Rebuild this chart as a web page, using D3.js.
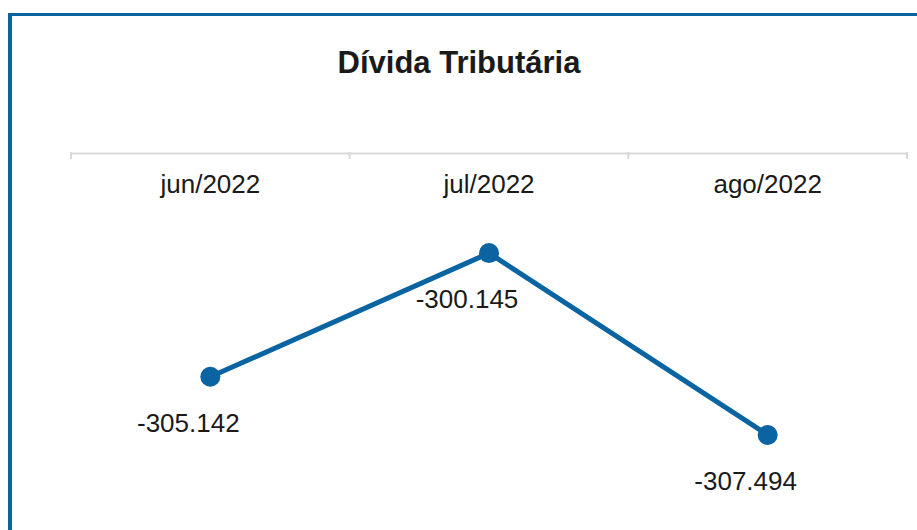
<!DOCTYPE html>
<html>
<head>
<meta charset="utf-8">
<script src="https://cdn.jsdelivr.net/npm/d3@7"></script>
<style>
  body { margin: 0; background: #fff; }
  text { font-family: "Liberation Sans", Arial, sans-serif; fill: #1a1a1a; }
</style>
</head>
<body>
<svg class="chart" width="917" height="530"></svg>
<script>
// chart data
const months = ["jun/2022", "jul/2022", "ago/2022"];
const divida = [-305.142, -300.145, -307.494];
const valueLabels = ["-305.142", "-300.145", "-307.494"];
const chartTitle = "Dívida Tributária";

const svg = d3.select(".chart");
const blue = "#0b64a2";

// frame (top and left edges only are visible)
svg.append("rect").attr("x", 8).attr("y", 13).attr("width", 4).attr("height", 530).attr("fill", blue);
svg.append("rect").attr("x", 8).attr("y", 13).attr("width", 909).attr("height", 3).attr("fill", blue);

svg.append("text")
    .attr("x", 459).attr("y", 73)
    .attr("text-anchor", "middle")
    .style("font-size", "31px").style("font-weight", "bold")
    .text(chartTitle);

const x = d3.scaleBand().domain(months).range([71, 907]);
const y = d3.scaleLinear().domain([-296.1, -310]).range([153, 497]);

// category axis sits on top
const axis = svg.append("g")
    .attr("transform", "translate(0,153)")
    .call(d3.axisBottom(x).tickSize(0).tickPadding(22));
axis.select(".domain").attr("stroke", "#d9d9d9").attr("stroke-width", 2);
axis.selectAll("text").style("font-size", "26px").attr("font-family", null).attr("fill", "#1a1a1a");

// band edge ticks
svg.append("g").selectAll("line")
    .data(months.concat([null]))
    .enter().append("line")
    .attr("x1", (d, i) => i < months.length ? x(d) : x(months[months.length - 1]) + x.bandwidth())
    .attr("x2", (d, i) => i < months.length ? x(d) : x(months[months.length - 1]) + x.bandwidth())
    .attr("y1", 152).attr("y2", 159)
    .attr("stroke", "#d9d9d9").attr("stroke-width", 2);

const cx = d => x(d) + x.bandwidth() / 2;

svg.append("path")
    .datum(months)
    .attr("fill", "none")
    .attr("stroke", blue)
    .attr("stroke-width", 5)
    .attr("d", d3.line().x(d => cx(d)).y((d, i) => y(divida[i])));

svg.selectAll(".dot")
    .data(months)
    .enter().append("circle")
    .attr("class", "dot")
    .attr("cx", d => cx(d))
    .attr("cy", (d, i) => y(divida[i]))
    .attr("r", 10)
    .attr("fill", blue);

svg.selectAll(".lbl")
    .data(months)
    .enter().append("text")
    .attr("class", "lbl")
    .attr("x", d => cx(d) - 22)
    .attr("y", (d, i) => y(divida[i]) + 55)
    .attr("text-anchor", "middle")
    .style("font-size", "26px")
    .text((d, i) => valueLabels[i]);
</script>
</body>
</html>
